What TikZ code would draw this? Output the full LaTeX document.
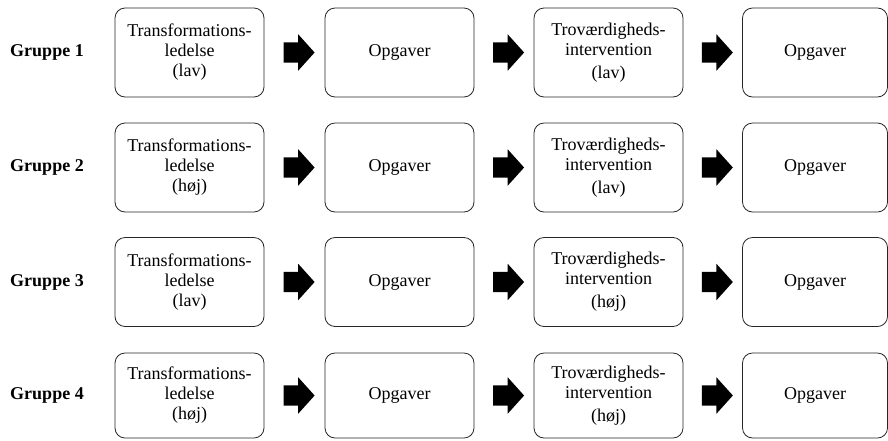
\documentclass[tikz,border=0pt]{standalone}
\usepackage{fontspec}
\setmainfont{Liberation Serif}
\usetikzlibrary{shapes.arrows,calc}

\tikzset{
  stepbox/.style={draw=black!85, line width=0.8pt, rounded corners=10pt,
    minimum width=149pt, minimum height=89pt, inner sep=0pt, align=center,
    font=\fontsize{18}{20}\selectfont},
  blockarrow/.style={single arrow, fill=black, draw=none, inner sep=0pt,
    text height=20pt, text depth=0pt, text width=0pt, minimum height=31pt,
    single arrow head extend=8pt, single arrow tip angle=96},
  grouplabel/.style={font=\fontsize{18}{20}\selectfont\bfseries}
}

\begin{document}
\begin{tikzpicture}[x=1pt,y=-1pt]
  \useasboundingbox (0,0) rectangle (888,440);

  % One row per group: top edge, box height, levels

  \foreach \row/\ytop/\hgt/\lead/\trust in {1/8/89/lav/lav, 2/123/89/høj/lav,
      3/237.5/89/lav/høj, 4/353/85/høj/høj}{
    \pgfmathsetmacro{\ymid}{\ytop + \hgt/2};

    \node[grouplabel] (g\row) at (47,\ymid) {Gruppe \row};

    \node[stepbox, minimum height=\hgt pt] (t\row) at (189.5,\ymid)
      {Transformations-\\ledelse\\(\lead)};
    \node[stepbox, minimum height=\hgt pt] (o\row) at (399.5,\ymid) {Opgaver};
    \node[stepbox, minimum height=\hgt pt] (v\row) at (608.5,\ymid)
      {Troværdigheds-\\intervention\\[3pt](\trust)};
    \node[stepbox, minimum height=\hgt pt, minimum width=145pt] (p\row)
      at (815,\ymid) {Opgaver};

    % Then the block arrows between the boxes

    \node[blockarrow] (a\row1) at ($(t\row.east)!0.5!(o\row.west)$) {};
    \node[blockarrow] (a\row2) at ($(o\row.east)!0.5!(v\row.west)$) {};
    \node[blockarrow] (a\row3) at ($(v\row.east)!0.5!(p\row.west)$) {};
  }
\end{tikzpicture}
\end{document}
